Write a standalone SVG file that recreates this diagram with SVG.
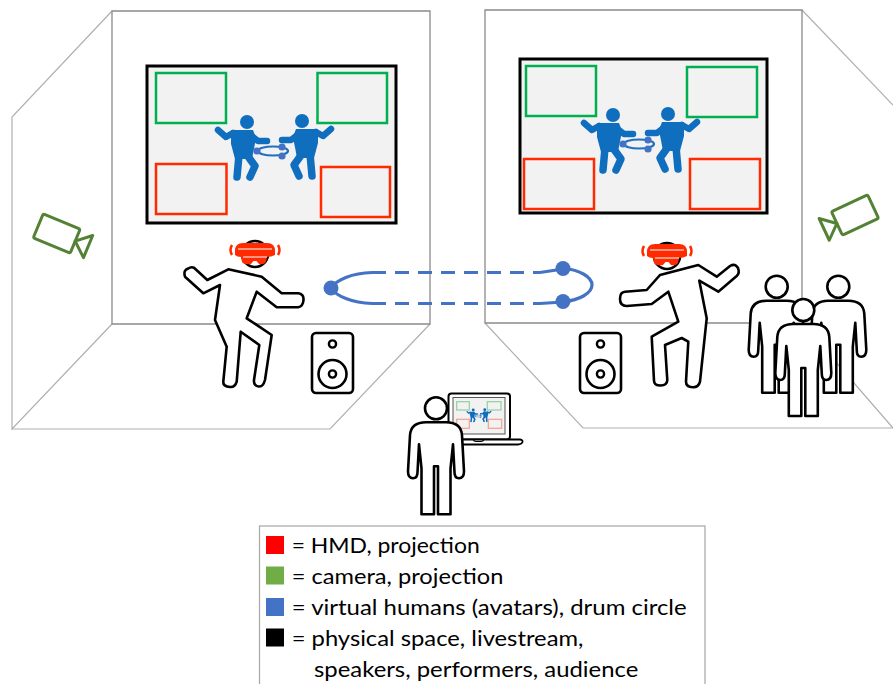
<svg xmlns="http://www.w3.org/2000/svg" xmlns:xlink="http://www.w3.org/1999/xlink" width="893" height="684" viewBox="0 0 893 684">
  <style>
    .wall { fill: none; stroke: #8a8a8a; stroke-width: 1.3; }
    .side { fill: none; stroke: #b0b0b0; stroke-width: 1.2; }
    .screen { fill: #f2f2f2; stroke: #000; stroke-width: 3; }
    .cam-g { fill: none; stroke: #00b050; stroke-width: 2.5; }
    .hmd-r { fill: none; stroke: #ff2a00; stroke-width: 2.5; }
    .av { fill: #106ebe; }
    .avl { fill: none; stroke: #106ebe; stroke-linecap: round; stroke-linejoin: round; }
    .ring { fill: none; stroke: #1f6fc2; stroke-width: 2.2; }
    .dot { fill: #4472c4; }
    .outline { fill: #fff; stroke: #000; stroke-width: 2.6; stroke-linejoin: round; }
    .webcam { fill: none; stroke: #548235; stroke-width: 3; stroke-linejoin: round; }
    .link { fill: none; stroke: #4472c4; stroke-width: 3.2; stroke-linecap: butt; }
    .dash { stroke-dasharray: 14 9; }
    .legend-text { font-family: "Lato", "Liberation Sans", sans-serif; font-size: 22px; fill: #000; }
  </style>
  <defs>
    <!-- blue avatar figure, head centred at the origin -->
    <g id="avatar">
      <circle class="av" cx="0" cy="0" r="7"/>
      <path class="av" d="M-16,8 L6,8 L9,16 L5,37 L-12,37 L-16,22 Z"/>
      <path class="avl" stroke-width="6.5" d="M-14,11 L-21,15 L-29,8"/>
      <path class="avl" stroke-width="6.5" d="M2,12 L11,19 L20,19"/>
      <path class="avl" stroke-width="7.5" d="M-8,33 L-10,55"/>
      <path class="avl" stroke-width="7.5" d="M0,33 L8,44 L3,55"/>
    </g>
    <!-- two avatars sharing a drum ring -->
    <g id="pair">
      <use href="#avatar"/>
      <use href="#avatar" transform="translate(55,-1) scale(-1,1)"/>
      <ellipse class="ring" cx="26" cy="29" rx="15" ry="4.5"/>
      <circle class="dot" cx="10" cy="29" r="3.6"/>
      <circle class="dot" cx="35" cy="25" r="3.6"/>
      <circle class="dot" cx="35" cy="34" r="3.6"/>
    </g>
    <!-- head-mounted display, centred on a head at the origin -->
    <g id="hmd">
      <path fill="#ff2a00" d="M-20,-3 Q-20,-11 -12,-11 L12,-11 Q20,-11 20,-3 L20,1 Q16,3 12,3 L11,8 Q9,11 4,10 L1.5,7 L-1.5,7 L-4,10 Q-11,11 -13,8 L-14,3 Q-18,3 -20,1 Z"/>
      <path fill="none" stroke="#fff" stroke-width="1.2" d="M-17,-5 H17"/>
      <path fill="none" stroke="#fff" stroke-width="1" d="M-12,3 H12"/>
      <path class="hmd-r" d="M-23,-9 Q-26,-4 -23,1"/>
      <path class="hmd-r" d="M23,-9 Q26,-4 23,1"/>
    </g>
    <!-- standing person outline, head centred at the origin -->
    <g id="person">
      <path class="outline" d="M-10,14 H10 Q25,14 26,27 L28,63 Q28,70 23,70 Q18.5,70 18.5,64 L17,36 L14.5,60 L14.5,106 L2,106 L2,58 L-2,58 L-2,106 L-14.5,106 L-14.5,60 L-17,36 L-18.5,64 Q-18.5,70 -23,70 Q-28,70 -28,63 L-26,27 Q-25,14 -10,14 Z"/>
      <circle class="outline" cx="0" cy="0" r="11"/>
    </g>
    <!-- video camera, lens pointing along +x -->
    <g id="camera">
      <rect class="webcam" x="-20" y="-13" width="40" height="26" rx="2"/>
      <path class="webcam" d="M20,0 L34,-12 L34,12 Z"/>
    </g>
    <!-- loudspeaker cabinet -->
    <g id="speaker">
      <rect x="0" y="0" width="41" height="60" rx="4" fill="#fff" stroke="#000" stroke-width="2.6"/>
      <circle cx="20.5" cy="11" r="3.6" fill="none" stroke="#000" stroke-width="2.4"/>
      <circle cx="20.5" cy="41" r="14" fill="none" stroke="#000" stroke-width="2.6"/>
      <circle cx="20.5" cy="41" r="3.6" fill="none" stroke="#000" stroke-width="2.4"/>
    </g>
  </defs>

  <rect width="893" height="684" fill="#fff"/>

  <!-- left room -->
  <g id="room-left">
    <path class="side" d="M112,11 L12,117 V429 L112,324"/>
    <path class="side" d="M12,429 H330 L430,324"/>
    <path class="wall" d="M112,11 H430 V324 H112 Z"/>
  </g>

  <!-- right room -->
  <g id="room-right">
    <path class="side" d="M802,10 L893,105"/>
    <path class="side" d="M802,323 L893,428"/>
    <path class="side" d="M485,323 L583,428 H893"/>
    <path class="wall" d="M485,10 H802 V323 H485 Z"/>
  </g>

  <!-- projection screens -->
  <g id="screen-left">
    <rect class="screen" x="147" y="66" width="249" height="157"/>
    <rect class="cam-g" x="156" y="73" width="70" height="50"/>
    <rect class="cam-g" x="317.5" y="73" width="69.5" height="50"/>
    <rect class="hmd-r" x="156" y="164" width="70.5" height="50"/>
    <rect class="hmd-r" x="321" y="167" width="69" height="50"/>
    <use href="#pair" transform="translate(247,122)"/>
  </g>
  <g id="screen-right">
    <rect class="screen" x="520" y="59" width="247" height="154"/>
    <rect class="cam-g" x="526" y="66" width="70" height="50"/>
    <rect class="cam-g" x="687" y="67" width="70" height="50"/>
    <rect class="hmd-r" x="524" y="159" width="70" height="50"/>
    <rect class="hmd-r" x="690" y="159" width="70" height="50"/>
    <use href="#pair" transform="translate(613,115)"/>
  </g>

  <!-- cameras on the side walls -->
  <g id="camera-left">
    <use href="#camera" transform="translate(56.7,233.5) rotate(22.6)"/>
  </g>
  <g id="camera-right">
    <use href="#camera" transform="translate(855,215) rotate(-25) scale(-1,1)"/>
  </g>

  <!-- speakers -->
  <g id="speaker-left">
    <use href="#speaker" transform="translate(312,333)"/>
  </g>
  <g id="speaker-right">
    <use href="#speaker" transform="translate(580,333)"/>
  </g>

  <!-- drum-circle link between the two rooms -->
  <g id="connectors">
    <path class="link" d="M372,272.5 C352,273 336,280 331,288 C336,296 352,303 372,303.5"/>
    <path class="link dash" d="M372,272.5 H540"/>
    <path class="link dash" d="M372,303.5 H540"/>
    <path class="link" d="M540,272.5 L563,269"/>
    <path class="link" d="M540,303.5 L563,302"/>
    <path class="link" d="M563,268 C580,270 592,277 592,285 C592,293 580,300 563,302"/>
    <circle class="dot" cx="331" cy="288" r="7.5"/>
    <circle class="dot" cx="563" cy="268.5" r="7.5"/>
    <circle class="dot" cx="563" cy="301.5" r="7.5"/>
  </g>

  <!-- performer wearing an HMD, left room -->
  <g id="performer-left">
    <path class="outline" d="M185,276.7 Q183,270 188.3,268.5 Q191,266.5 194,267.7 L207.3,280 L228.3,269.3 L261.7,276.7 L281.7,293.3 L298.3,293.3 Q304,294 303.5,300 Q303,306.5 298.3,307.3 L276.7,307.3 L256.7,291.7 L246.7,318.3 L271.7,335 L265,380 Q263,387 259,386.5 Q253.5,386 254,380 L259.3,345 L240.7,331.7 L236.7,381.7 Q235,387.5 230,387 Q223,386.5 223.3,381.7 L226.7,346.7 L215,320 L220,285 L203.3,293.3 Z"/>
    <circle class="outline" cx="255" cy="254" r="13"/>
    <use href="#hmd" transform="translate(255,254)"/>
  </g>

  <!-- performer wearing an HMD, right room -->
  <g id="performer-right">
    <path class="outline" d="M625,291.7 L646.7,290 L660,275 L698.3,265 L716.7,276.7 L730,266 Q735,263 738,268 Q740,273 736.7,276 L718.3,291.7 L699.3,280.7 L706.7,318.3 L700,381.7 Q698.5,387.5 693,387.3 Q686,387 686,381.7 L688.3,341.7 L681.7,338 L665,345 L667.3,380 Q667,385.5 660.7,385.5 Q654,385.5 654,380.7 L651.7,336.7 L678.3,321.7 L668.3,291.7 L651.7,304 L626.7,306 Q620,306 620,299 Q620,292 625,291.7 Z"/>
    <circle class="outline" cx="667" cy="256" r="13"/>
    <use href="#hmd" transform="translate(667,255)"/>
  </g>

  <!-- audience -->
  <g id="audience">
    <use href="#person" transform="translate(776.7,286.7)"/>
    <use href="#person" transform="translate(838.3,286.7)"/>
    <use href="#person" transform="translate(803.3,310)"/>
  </g>

  <!-- livestream viewer with laptop -->
  <g id="livestream">
    <rect x="448.5" y="393.5" width="61.5" height="46" rx="3" fill="#fff" stroke="#000" stroke-width="2"/>
    <rect x="453" y="397.5" width="52" height="36.5" fill="#f2f2f2" stroke="#555" stroke-width="1"/>
    <g fill="none" stroke-width="1.2">
      <rect x="456.7" y="401.7" width="12.6" height="8.3" stroke="#8fd19e"/>
      <rect x="487.3" y="401.7" width="13.7" height="8.3" stroke="#8fd19e"/>
      <rect x="456.7" y="419.3" width="12.6" height="9" stroke="#f4a090"/>
      <rect x="488.3" y="419.3" width="13.4" height="9" stroke="#f4a090"/>
    </g>
    <use href="#pair" transform="translate(473.2,410) scale(0.21)"/>
    <path d="M458,439.5 H520 Q523,440 522.5,442 Q521.5,444.5 518,444.5 H461 Q458,444.5 458,441.5 Z" fill="#fff" stroke="#000" stroke-width="1.8" stroke-linejoin="round"/>
    <path d="M473,439.5 Q474,441.5 476,441.5 H481 Q483,441.5 484,439.5" fill="none" stroke="#000" stroke-width="1.2"/>
    <use href="#person" transform="translate(436,408.3)"/>
  </g>

  <!-- legend -->
  <g id="legend">
    <rect x="259.5" y="526" width="445.5" height="170" fill="#fff" stroke="#a6a6a6" stroke-width="1.2"/>
    <rect x="266" y="536" width="18" height="18" fill="#ff0000"/>
    <rect x="266" y="566.5" width="18" height="18" fill="#70ad47"/>
    <rect x="266" y="598" width="18" height="18" fill="#4472c4"/>
    <rect x="266" y="628.5" width="18" height="18" fill="#000"/>
    <text class="legend-text" x="291.7" y="553.3" textLength="188" lengthAdjust="spacingAndGlyphs">= HMD, projection</text>
    <text class="legend-text" x="291.7" y="584.3" textLength="211.7" lengthAdjust="spacingAndGlyphs">= camera, projection</text>
    <text class="legend-text" x="291.7" y="615.3" textLength="395" lengthAdjust="spacingAndGlyphs">= virtual humans (avatars), drum circle</text>
    <text class="legend-text" x="291.7" y="646.3" textLength="291.7" lengthAdjust="spacingAndGlyphs">= physical space, livestream,</text>
    <text class="legend-text" x="314" y="676.7" textLength="324.3" lengthAdjust="spacingAndGlyphs">speakers, performers, audience</text>
  </g>
</svg>
